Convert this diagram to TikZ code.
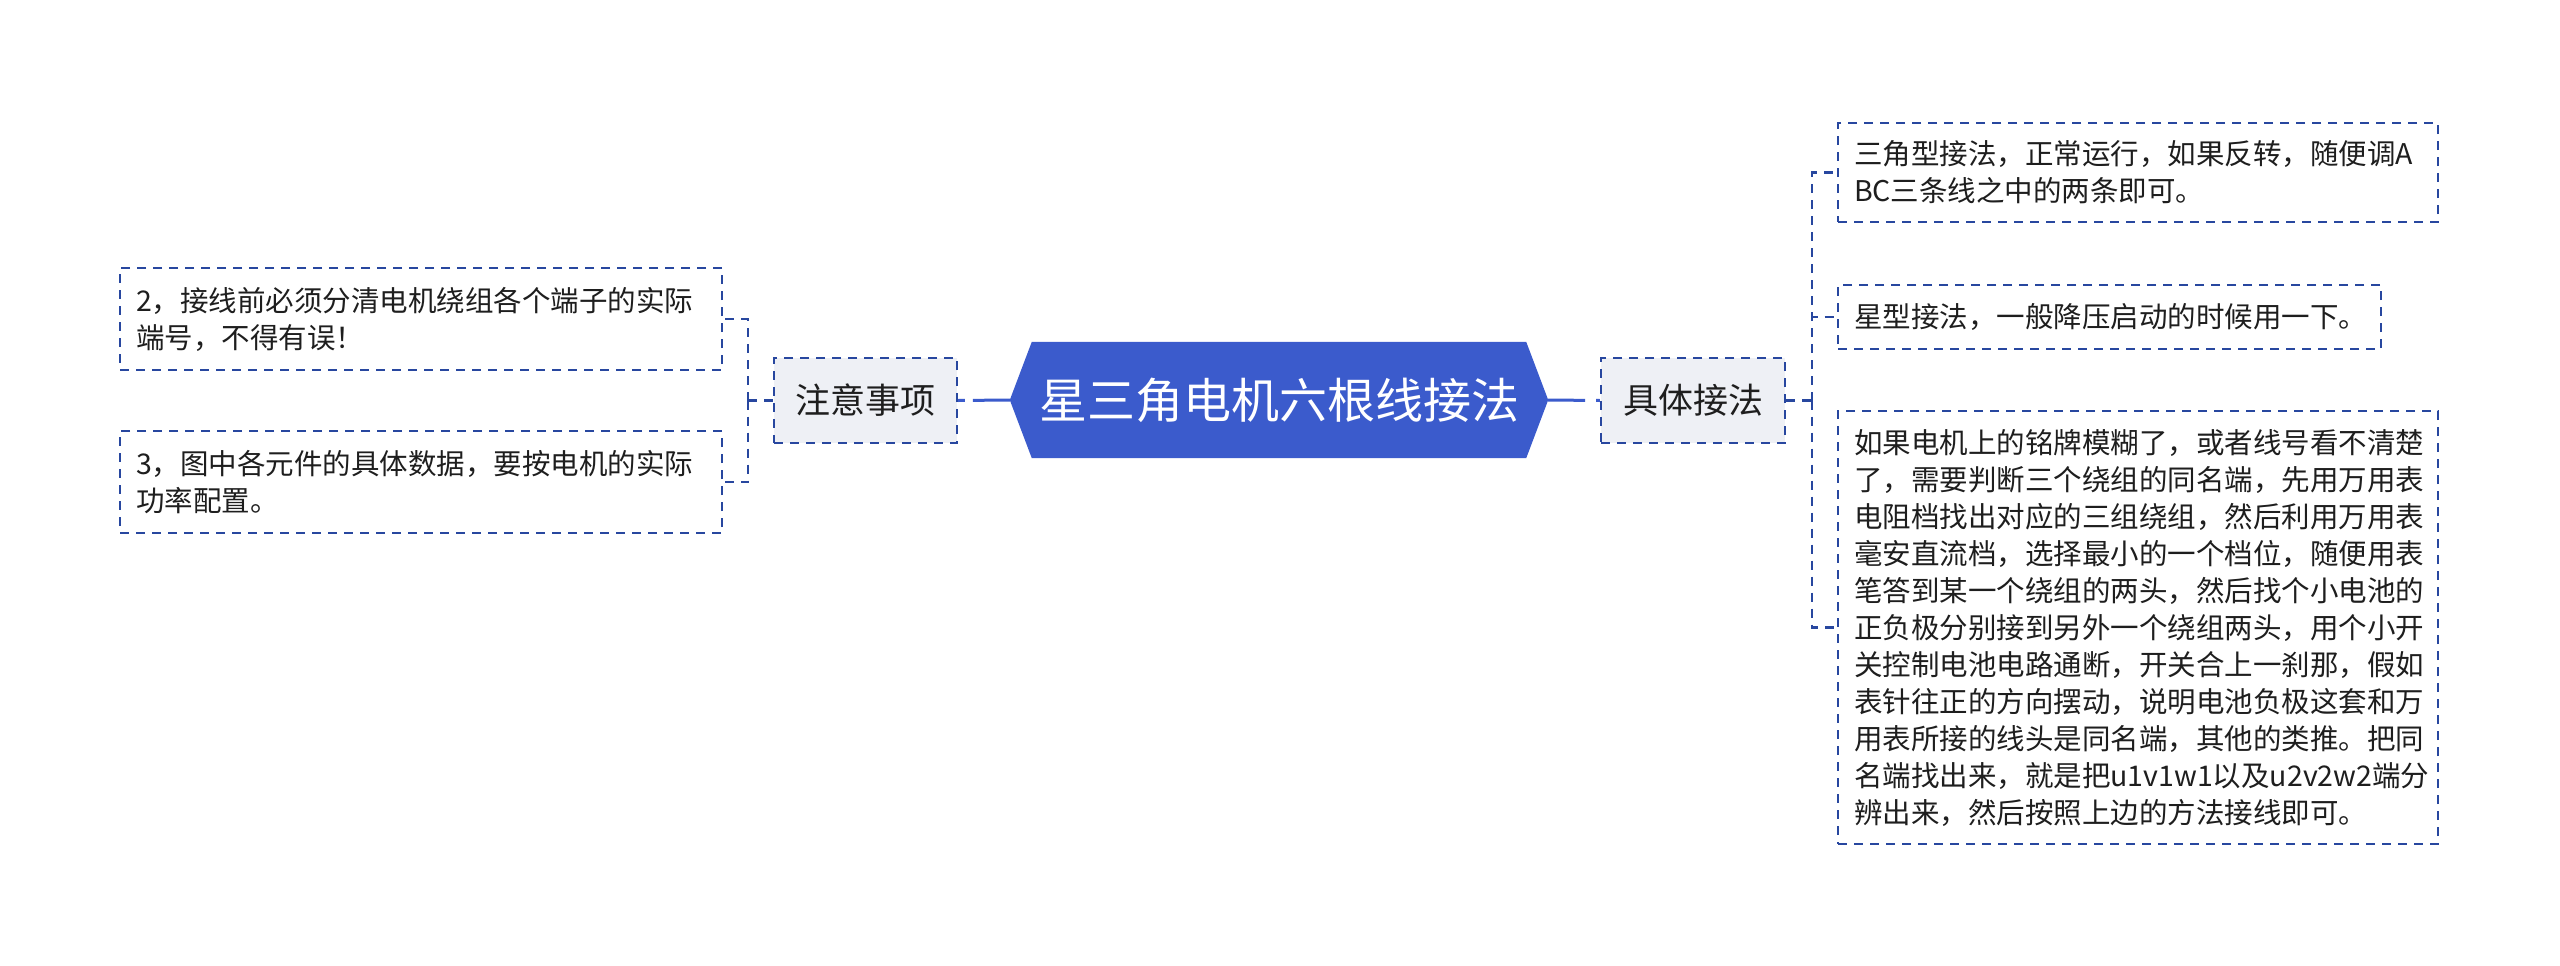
\documentclass[tikz,border=0pt]{standalone}
\usepackage{fontspec}
\setmainfont{Noto Sans CJK SC}
\usetikzlibrary{backgrounds}
\definecolor{rootblue}{HTML}{3B5BCC}
\definecolor{dashblue}{HTML}{28479F}
\definecolor{boxgray}{HTML}{EEF0F5}
\definecolor{txt}{HTML}{1E1E1E}
\begin{document}
\begin{tikzpicture}[x=1pt,y=-1pt,
  leaf/.style={draw=dashblue, line width=2.2pt, dash pattern=on 9pt off 7pt,
    text=txt, align=left, inner xsep=16pt, inner ysep=0pt,
    font=\fontsize{28.5}{37}\selectfont, anchor=center},
  mid/.style={draw=dashblue, line width=2.2pt, dash pattern=on 9pt off 7pt,
    fill=boxgray, text=txt, font=\fontsize{35}{42}\selectfont,
    minimum width=184pt, minimum height=85pt, inner sep=0pt},
  link/.style={draw=dashblue, line width=2.2pt, dash pattern=on 9pt off 7pt},
  rootlink/.style={draw=rootblue, line width=3pt},
]
\useasboundingbox (0,0) rectangle (2560,966);

% root
\node[font=\fontsize{48}{56}\selectfont, text=white, minimum width=538pt,
      minimum height=116pt, inner sep=0pt] (root) at (1279,400) {星三角电机六根线接法};
\begin{scope}[on background layer]
\fill[white] (0,0) rectangle (2560,966);
\fill[rootblue] (root.west) -- ([xshift=22pt]root.north west) -- ([xshift=-22pt]root.north east)
  -- (root.east) -- ([xshift=-22pt]root.south east) -- ([xshift=22pt]root.south west) -- cycle;
\end{scope}

% middle nodes
\node[mid, minimum width=183pt] (zy) at (865.5,400.5) {注意事项};
\node[mid] (jt) at (1693,400.5) {具体接法};

% left leaves
\node[leaf, text width=570pt, minimum width=602pt, minimum height=102pt] (l1) at (421,319)
  {2，接线前必须分清电机绕组各个端子的实际\\端号，不得有误！};
\node[leaf, text width=570pt, minimum width=602pt, minimum height=102pt] (l2) at (421,482)
  {3，图中各元件的具体数据，要按电机的实际\\功率配置。};

% right leaves
\node[leaf, text width=568pt, minimum width=600pt, minimum height=99pt] (r1) at (2138,172.5)
  {三角型接法，正常运行，如果反转，随便调A\\BC三条线之中的两条即可。};
\node[leaf, text width=511pt, minimum width=543pt, minimum height=64pt] (r2) at (2109.5,317)
  {星型接法，一般降压启动的时候用一下。};
\node[leaf, text width=568pt, minimum width=600pt, minimum height=433pt] (r3) at (2138,627.5)
  {如果电机上的铭牌模糊了，或者线号看不清楚\\
   了，需要判断三个绕组的同名端，先用万用表\\
   电阻档找出对应的三组绕组，然后利用万用表\\
   毫安直流档，选择最小的一个档位，随便用表\\
   笔答到某一个绕组的两头，然后找个小电池的\\
   正负极分别接到另外一个绕组两头，用个小开\\
   关控制电池电路通断，开关合上一刹那，假如\\
   表针往正的方向摆动，说明电池负极这套和万\\
   用表所接的线头是同名端，其他的类推。把同\\
   名端找出来，就是把u1v1w1以及u2v2w2端分\\
   辨出来，然后按照上边的方法接线即可。};

% root connectors
\draw[rootlink, dash pattern=on 37pt off 8pt on 30pt] (root.west) -- (zy.east);
\draw[rootlink, dash pattern=on 37pt off 11pt on 30pt] (root.east) -- (jt.west);

% brackets
\coordinate (lb) at (748,400.5);
\coordinate (rb) at (1812,400.5);
\draw[link] (zy.west) -- (lb);
\draw[link] (lb) |- (l1.east);
\draw[link] (lb) |- (l2.east);
\draw[link] (jt.east) -- (rb);
\draw[link] (rb) |- (r1.west);
\draw[link] (rb) |- (r2.west);
\draw[link] (rb) |- (r3.west);
\end{tikzpicture}
\end{document}
